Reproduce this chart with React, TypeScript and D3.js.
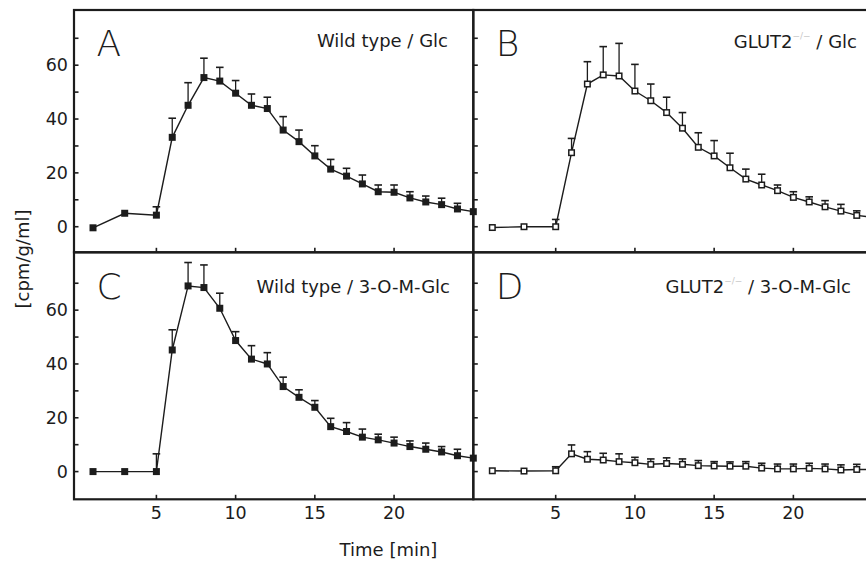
import React from "react";
import * as d3 from "d3";

// ---- data ----
const times = [1, 3, 5, 6, 7, 8, 9, 10, 11, 12, 13, 14, 15, 16, 17, 18, 19, 20, 21, 22, 23, 24, 25];

const wtGlcMean = [-0.4, 5.0, 4.3, 33.2, 45.1, 55.4, 54.1, 49.6, 45.1, 43.9, 35.9, 31.6, 26.3, 21.4, 18.8, 15.9, 13.0, 12.8, 10.7, 9.2, 8.2, 6.6, 5.6];
const wtGlcErr = [0, 0, 3.1, 7.1, 8.4, 7.2, 5.1, 4.7, 4.2, 4.2, 5.0, 4.3, 3.8, 3.6, 2.9, 3.3, 2.5, 2.7, 2.3, 2.2, 2.4, 2.1, 0];

const koGlcMean = [-0.3, 0, 0, 27.5, 53.0, 56.4, 56.0, 50.4, 46.8, 42.4, 36.6, 29.5, 26.3, 21.9, 17.7, 15.5, 13.4, 10.9, 9.2, 7.4, 5.8, 4.2, 3.5];
const koGlcErr = [0, 0, 2.7, 5.3, 8.3, 10.5, 12.1, 9.9, 6.2, 5.7, 5.8, 5.4, 5.7, 5.4, 3.7, 4.0, 2.1, 2.1, 1.9, 2.3, 2.5, 1.7, 1.5];

const wtOmgMean = [0, 0, 0, 45.2, 69.0, 68.4, 60.7, 48.7, 41.8, 40.0, 31.6, 27.6, 23.9, 16.7, 14.9, 12.8, 11.8, 10.6, 9.3, 8.3, 7.3, 5.9, 5.0];
const wtOmgErr = [0, 0, 6.6, 7.5, 8.7, 8.4, 5.6, 3.3, 5.0, 4.2, 3.5, 2.8, 2.5, 3.1, 3.3, 3.0, 2.1, 2.2, 2.1, 2.3, 2.0, 2.4, 0];

const koOmgMean = [0.3, 0.2, 0.3, 6.6, 4.6, 4.3, 3.7, 3.3, 2.7, 3.0, 2.7, 2.2, 2.1, 2.0, 2.0, 1.3, 1.0, 1.0, 1.2, 1.0, 0.6, 0.8, 0.8];
const koOmgErr = [0, 0, 1.5, 3.3, 2.8, 2.5, 2.9, 2.0, 2.0, 2.1, 2.0, 1.9, 1.6, 1.6, 1.7, 1.8, 1.8, 1.8, 1.9, 1.8, 1.9, 1.9, 1.8];

const yTicks = [0, 10, 20, 30, 40, 50, 60, 70];
const yTickLabels = ["0", "20", "40", "60"];
const xTicks = [5, 10, 15, 20];
const xTickLabels = ["5", "10", "15", "20"];

const panelLetters = ["A", "B", "C", "D"];
const genotypes = ["Wild type", "GLUT2", "Wild type", "GLUT2"];
const substrates = ["Glc", "Glc", "3-O-M-Glc", "3-O-M-Glc"];

// ---- layout ----
const W = 866;
const H = 563;
const colX = [74, 473.3, 872.6];
const rowY = [10, 252.3, 499.3];
const xDomain: [number, number] = [-0.2, 25.0];
const yDomains: [number, number][] = [[-9.5, 80.5], [-10.3, 81.5]];
const FONT = "'DejaVu Sans', 'Liberation Sans', Arial, sans-serif";
const INK = "#1c1c1c";

type PanelDef = {
  mean: number[];
  err: number[];
  filled: boolean;
  col: number;
  row: number;
  titleEnd: number;
  titleBase: number;
};

const panels: PanelDef[] = [
  { mean: wtGlcMean, err: wtGlcErr, filled: true, col: 0, row: 0, titleEnd: 448, titleBase: 47 },
  { mean: koGlcMean, err: koGlcErr, filled: false, col: 1, row: 0, titleEnd: 857, titleBase: 48 },
  { mean: wtOmgMean, err: wtOmgErr, filled: true, col: 0, row: 1, titleEnd: 450, titleBase: 292.5 },
  { mean: koOmgMean, err: koOmgErr, filled: false, col: 1, row: 1, titleEnd: 851, titleBase: 293 },
];

function Panel({ p, i }: { p: PanelDef; i: number }) {
  const x0 = colX[p.col];
  const x1 = colX[p.col + 1];
  const y0 = rowY[p.row];
  const y1 = rowY[p.row + 1];
  const x = d3.scaleLinear().domain(xDomain).range([x0, x1]);
  const y = d3.scaleLinear().domain(yDomains[p.row]).range([y1, y0]);
  const pts = times.map((t, k) => ({ t, v: p.mean[k], e: p.err[k] }));
  const line = d3
    .line<{ t: number; v: number }>()
    .x((d) => x(d.t))
    .y((d) => y(d.v));
  const ms = 7;
  const cap = 3.8;
  const isKO = genotypes[i] === "GLUT2";
  return (
    <g>
      {/* error bars (upward only) */}
      {pts
        .filter((d) => d.e > 0)
        .map((d, k) => (
          <g key={"e" + k} stroke={INK} strokeWidth={1.3}>
            <line x1={x(d.t)} x2={x(d.t)} y1={y(d.v)} y2={y(d.v + d.e)} />
            <line x1={x(d.t) - cap} x2={x(d.t) + cap} y1={y(d.v + d.e)} y2={y(d.v + d.e)} strokeWidth={1.6} />
          </g>
        ))}
      <path d={line(pts) || ""} fill="none" stroke={INK} strokeWidth={1.4} />
      {pts.map((d, k) =>
        p.filled ? (
          <rect key={"m" + k} x={x(d.t) - ms / 2} y={y(d.v) - ms / 2} width={ms} height={ms} fill={INK} />
        ) : (
          <rect
            key={"m" + k}
            x={x(d.t) - (ms - 1.5) / 2}
            y={y(d.v) - (ms - 1.5) / 2}
            width={ms - 1.5}
            height={ms - 1.5}
            fill="#fff"
            stroke={INK}
            strokeWidth={1.5}
          />
        )
      )}
      {/* y ticks (inward) */}
      {yTicks.map((t) => (
        <line key={"yt" + t} x1={x0} x2={x0 + 4.5} y1={y(t)} y2={y(t)} stroke={INK} strokeWidth={1.6} />
      ))}
      {/* x ticks (inward) */}
      {xTicks.map((t) => (
        <line key={"xt" + t} x1={x(t)} x2={x(t)} y1={y1} y2={y1 - 4.5} stroke={INK} strokeWidth={1.6} />
      ))}
      {/* frame */}
      <rect x={x0} y={y0} width={x1 - x0} height={y1 - y0} fill="none" stroke={INK} strokeWidth={2.2} />
      {/* y tick labels for left column */}
      {p.col === 0 &&
        yTickLabels.map((lab) => (
          <text
            key={"yl" + lab}
            x={68}
            y={y(+lab) + 6.2}
            textAnchor="end"
            fontFamily={FONT}
            fontSize={17.5}
            fill={INK}
          >
            {lab}
          </text>
        ))}
      {/* x tick labels for bottom row */}
      {p.row === 1 &&
        xTickLabels.map((lab) => (
          <text
            key={"xl" + lab}
            x={x(+lab)}
            y={518.5}
            textAnchor="middle"
            fontFamily={FONT}
            fontSize={17.5}
            fill={INK}
          >
            {lab}
          </text>
        ))}
      {/* panel letter */}
      <text
        x={x0 + 22.5}
        y={y0 + (p.row === 0 ? 45.5 : 47)}
        fontFamily={FONT}
        fontWeight={200}
        fontSize={36}
        fill={INK}
      >
        {panelLetters[i]}
      </text>
      {/* title */}
      <text x={p.titleEnd} y={p.titleBase} textAnchor="end" fontFamily={FONT} fontSize={18} fill={INK}>
        <tspan>{genotypes[i]}</tspan>
        {isKO && (
          <tspan dy={-9} fontSize={9} fill="#c8c8c8">
            {"\u2212/\u2212"}
          </tspan>
        )}
        <tspan dy={isKO ? 9 : 0}>{(isKO ? "  " : " ") + "/ " + substrates[i]}</tspan>
      </text>
    </g>
  );
}

export default function App() {
  return (
    <svg
      width={W}
      height={H}
      viewBox={`0 0 ${W} ${H}`}
      style={{ position: "absolute", left: 0, top: 0, background: "#fff" }}
    >
      <rect x={0} y={0} width={W} height={H} fill="#fff" />
      {panels.map((p, i) => (
        <Panel key={i} p={p} i={i} />
      ))}
      <text
        transform="translate(29,259) rotate(-90)"
        textAnchor="middle"
        fontFamily={FONT}
        fontSize={18}
        fill={INK}
      >
        [cpm/g/ml]
      </text>
      <text x={388.5} y={556} textAnchor="middle" fontFamily={FONT} fontSize={18} fill={INK}>
        Time [min]
      </text>
    </svg>
  );
}
